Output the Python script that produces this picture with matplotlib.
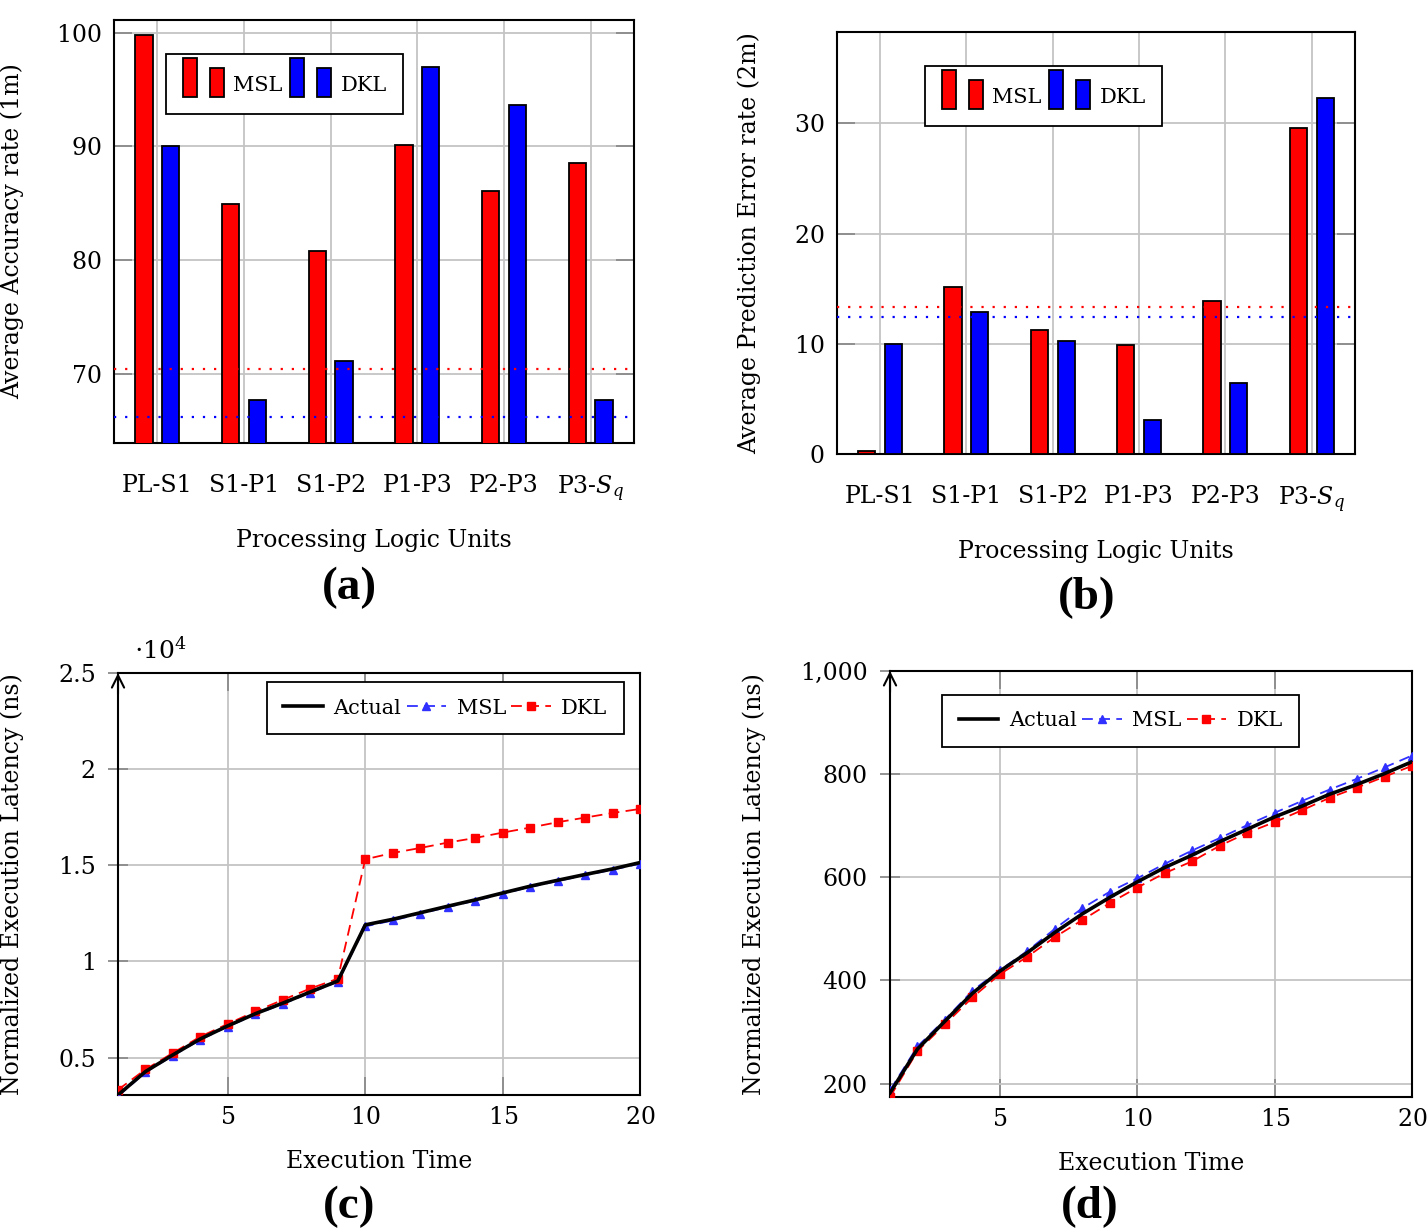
import numpy as np
import matplotlib
matplotlib.use("Agg")
import matplotlib.pyplot as plt
from matplotlib.patches import Rectangle
from matplotlib.legend_handler import HandlerBase
from matplotlib.ticker import FuncFormatter

plt.rcParams['font.family'] = 'serif'
plt.rcParams['font.serif'] = ['DejaVu Serif']
plt.rcParams['mathtext.fontset'] = 'dejavuserif'
plt.rcParams['axes.formatter.use_mathtext'] = True

# ---- data ----
units = ["PL-S1", "S1-P1", "S1-P2", "P1-P3", "P2-P3", r"P3-$S_q$"]

acc_msl = [99.8, 84.9, 80.8, 90.15, 86.1, 88.5]
acc_dkl = [90.05, 67.7, 71.1, 96.95, 93.6, 67.7]
acc_msl_mean = 70.4
acc_dkl_mean = 66.2

err_msl = [0.25, 15.15, 11.25, 9.9, 13.9, 29.6]
err_dkl = [10.0, 12.85, 10.25, 3.05, 6.4, 32.3]
err_msl_mean = 13.3
err_dkl_mean = 12.45

t = list(range(1, 21))
lat_c_actual = [3050, 4270, 5140, 5970, 6650, 7280, 7830, 8410, 8980,
                11900, 12190, 12530, 12870, 13200, 13560, 13910, 14220, 14520, 14810, 15140]
lat_c_msl = [2990, 4230, 5100, 5930, 6610, 7240, 7790, 8370, 8940,
             11820, 12130, 12480, 12830, 13160, 13520, 13870, 14180, 14480, 14770, 15080]
lat_c_dkl = [3320, 4380, 5240, 6090, 6750, 7400, 8000, 8590, 9100,
             15310, 15640, 15900, 16180, 16420, 16700, 16960, 17240, 17480, 17720, 17930]

lat_d_actual = [182, 267, 321, 375, 418, 454, 493, 529, 561, 591,
                619, 643, 669, 693, 717, 738, 761, 780, 801, 824]
lat_d_msl = [187, 272, 324, 380, 420, 457, 500, 540, 572, 598,
             626, 652, 676, 701, 725, 748, 770, 791, 813, 836]
lat_d_dkl = [174, 263, 315, 367, 412, 446, 484, 517, 550, 580,
             608, 631, 661, 686, 707, 730, 754, 774, 795, 816]

RED = '#ff0000'
BLUE = '#0000ff'
GRID = '#c4c4c4'
TICK = '#8a8a8a'
FS = 17      # tick labels and axis labels
FS_LEG = 15  # legends


class TwoBarHandler(HandlerBase):
    # pgfplots style ybar legend image: a tall bar and a shorter bar
    def create_artists(self, legend, orig_handle, xdescent, ydescent,
                       width, height, fontsize, trans):
        fc = orig_handle.get_facecolor()
        w = 0.67 * fontsize
        y0 = -ydescent
        r1 = Rectangle((-xdescent, y0), w, 1.9 * fontsize,
                       facecolor=fc, edgecolor='k', lw=1.3, transform=trans)
        r2 = Rectangle((-xdescent + 1.3 * fontsize, y0), w, 1.4 * fontsize,
                       facecolor=fc, edgecolor='k', lw=1.3, transform=trans)
        return [r1, r2]


fig = plt.figure(figsize=(14.27, 12.32), dpi=100)


def bar_panel(rect, msl, dkl, msl_mean, dkl_mean, ylim, yticks, ylabel, ylab_x, leg_anchor):
    ax = fig.add_axes(rect)
    x = np.arange(len(units))
    ax.bar(x - 0.155, msl, 0.2, color=RED, edgecolor='k', lw=1.3, label='MSL', zorder=3)
    ax.bar(x + 0.155, dkl, 0.2, color=BLUE, edgecolor='k', lw=1.3, label='DKL', zorder=3)
    ax.axhline(msl_mean, color=RED, ls=(0, (1, 4)), lw=1.6, zorder=4)
    ax.axhline(dkl_mean, color=BLUE, ls=(0, (1, 4)), lw=1.6, zorder=4)
    ax.set_xlim(-0.5, 5.5)
    ax.set_ylim(*ylim)
    ax.set_yticks(yticks)
    ax.set_xticks(x)
    ax.set_xticklabels(units)
    ax.set_axisbelow(True)
    ax.grid(True, color=GRID, lw=1.3)
    ax.tick_params(axis='x', length=0, pad=22, labelsize=FS)
    ax.tick_params(axis='y', direction='in', length=13, width=1.3, color=TICK,
                   right=True, labelsize=FS, pad=9)
    for s in ax.spines.values():
        s.set_linewidth(1.5)
    ax.set_xlabel("Processing Logic Units", fontsize=FS, labelpad=18)
    ax.set_ylabel(ylabel, fontsize=FS)
    ax.yaxis.set_label_coords(ylab_x, 0.5)
    leg = ax.legend(handler_map={matplotlib.patches.Rectangle: TwoBarHandler()},
                    handles=[ax.patches[0], ax.patches[len(units)]], labels=['MSL', 'DKL'],
                    ncol=2, loc='upper left', bbox_to_anchor=leg_anchor,
                    fontsize=FS_LEG, handlelength=1.97, handleheight=1.6,
                    columnspacing=0.4, handletextpad=0.43, fancybox=False,
                    edgecolor='k', framealpha=1, borderpad=0.8, borderaxespad=0)
    leg.get_frame().set_linewidth(1.3)
    return ax


bar_panel([0.0799, 0.6404, 0.3644, 0.3433], acc_msl, acc_dkl, acc_msl_mean, acc_dkl_mean,
          (63.9, 101.1), [70, 80, 90, 100], "Average Accuracy rate (1m)", -0.172, (0.1, 0.92))
bar_panel([0.5865, 0.6315, 0.3630, 0.3425], err_msl, err_dkl, err_msl_mean, err_dkl_mean,
          (0, 38.3), [0, 10, 20, 30], "Average Prediction Error rate (2m)", -0.147, (0.17, 0.92))


def line_panel(rect, actual, msl, dkl, ylim, yticks, fmt, ylab_x, leg_anchor):
    ax = fig.add_axes(rect)
    ax.plot(t, actual, color='k', lw=2.6, label='Actual', zorder=4)
    ax.plot(t, msl, color='#3030ff', lw=1.3, dashes=(6, 3.5), marker='^', ms=6,
            label='MSL', zorder=3)
    ax.plot(t, dkl, color=RED, lw=1.3, dashes=(6, 3.5), marker='s', ms=6,
            label='DKL', zorder=3)
    ax.set_xlim(1, 20)
    ax.set_ylim(*ylim)
    ax.set_xticks([5, 10, 15, 20])
    ax.set_yticks(yticks)
    ax.yaxis.set_major_formatter(FuncFormatter(fmt))
    ax.grid(True, color=GRID, lw=1.3)
    ax.set_axisbelow(True)
    ax.tick_params(axis='x', direction='in', length=13, width=1.3, color=TICK,
                   top=True, labelsize=FS, pad=8)
    ax.tick_params(axis='y', direction='inout', length=14, width=1.3, color=TICK,
                   labelsize=FS, pad=9)
    for s in ax.spines.values():
        s.set_linewidth(1.5)
    ax.annotate('', xy=(0, 1.0), xytext=(0, 0.95), xycoords='axes fraction',
                arrowprops=dict(arrowstyle='->', lw=1.5, color='k',
                                mutation_scale=22, shrinkA=0, shrinkB=0))
    ax.set_xlabel("Execution Time", fontsize=FS, labelpad=15)
    ax.set_ylabel("Normalized Execution Latency (ns)", fontsize=FS)
    ax.yaxis.set_label_coords(ylab_x, 0.5)
    leg = ax.legend(ncol=3, loc='upper left', bbox_to_anchor=leg_anchor, fontsize=FS_LEG,
                    handlelength=1.9, columnspacing=0.25, handletextpad=0.5,
                    fancybox=False, edgecolor='k', framealpha=1, borderpad=0.8,
                    borderaxespad=0)
    leg.get_frame().set_linewidth(1.3)
    return ax


axc = line_panel([0.0827, 0.1112, 0.3658, 0.3425], lat_c_actual, lat_c_msl, lat_c_dkl,
                 (3050, 25000), [5000, 10000, 15000, 20000, 25000],
                 lambda v, p: f"{v / 1e4:g}", -0.18, (0.285, 0.979))
axc.text(0.03, 1.035, r"$\cdot10^{4}$", transform=axc.transAxes, fontsize=FS + 1)

line_panel([0.6237, 0.1096, 0.3658, 0.3458], lat_d_actual, lat_d_msl, lat_d_dkl,
           (174, 1000), [200, 400, 600, 800, 1000],
           lambda v, p: f"{v:,.0f}", -0.238, (0.1, 0.944))

for lab, x, y in [("(a)", 349, 588), ("(b)", 1087, 598), ("(c)", 349, 1207), ("(d)", 1090, 1207)]:
    fig.text(x / 1427, 1 - y / 1232, lab, ha='center', va='center',
             fontsize=34, fontweight='bold', family='Liberation Serif')

fig.savefig("out.png", dpi=100)
